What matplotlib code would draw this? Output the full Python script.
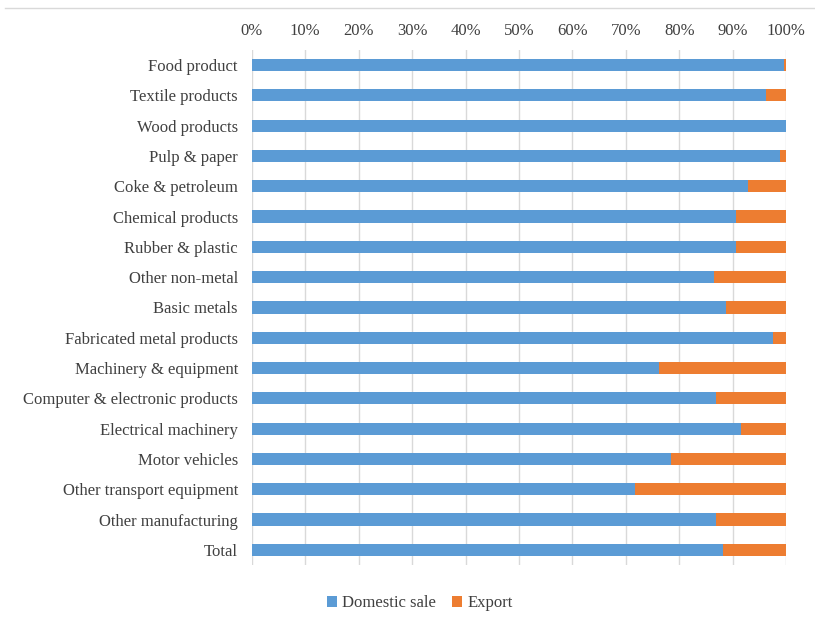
import numpy as np
import matplotlib.pyplot as plt
from matplotlib.lines import Line2D
from matplotlib.ticker import PercentFormatter

plt.rcParams['font.family'] = ['Liberation Serif', 'DejaVu Serif']

# Share of sales by destination, per manufacturing industry (%)
industries = ['Food product', 'Textile products', 'Wood products', 'Pulp & paper',
              'Coke & petroleum', 'Chemical products', 'Rubber & plastic',
              'Other non-metal', 'Basic metals', 'Fabricated metal products',
              'Machinery & equipment', 'Computer & electronic products',
              'Electrical machinery', 'Motor vehicles', 'Other transport equipment',
              'Other manufacturing', 'Total']
domestic = [99.7, 96.2, 99.9, 98.8, 92.8, 90.6, 90.7, 86.6, 88.8, 97.6,
            76.3, 86.9, 91.5, 78.4, 71.8, 86.8, 88.2]
export = [100 - d for d in domestic]

blue = '#5B9BD5'
orange = '#ED7D31'

fig = plt.figure(figsize=(8.15, 6.24), dpi=100)
ax = fig.add_axes([0.309, 0.0946, 0.6555, 0.8254])

y = np.arange(len(industries))
ax.barh(y, domestic, height=0.4, color=blue, label='Domestic sale', zorder=2)
ax.barh(y, export, left=domestic, height=0.4, color=orange, label='Export', zorder=2)

ax.set_xlim(0, 100)
ax.set_ylim(len(industries) - 0.5, -0.5)
ax.set_yticks(y)
ax.set_yticklabels(industries)
ax.set_xticks(np.arange(0, 101, 10))
ax.xaxis.set_major_formatter(PercentFormatter(decimals=0))
ax.xaxis.tick_top()
ax.tick_params(axis='both', length=0, labelsize=12, labelcolor='#404040')
ax.tick_params(axis='x', pad=8)
ax.tick_params(axis='y', pad=10)
ax.grid(axis='x', color='#D9D9D9', linewidth=1, zorder=0)
for s in ax.spines.values():
    s.set_visible(False)

# frame line along the top of the chart area
fig.add_artist(Line2D([0.006, 1.0], [0.987, 0.987], color='#D9D9D9', linewidth=1))

fig.legend(loc='lower center', bbox_to_anchor=(0.515, -0.004), ncol=2, frameon=False,
           fontsize=12, handlelength=0.6, handleheight=0.6, handletextpad=0.3,
           columnspacing=1.0, labelcolor='#404040')

fig.savefig('out.png', dpi=100)
